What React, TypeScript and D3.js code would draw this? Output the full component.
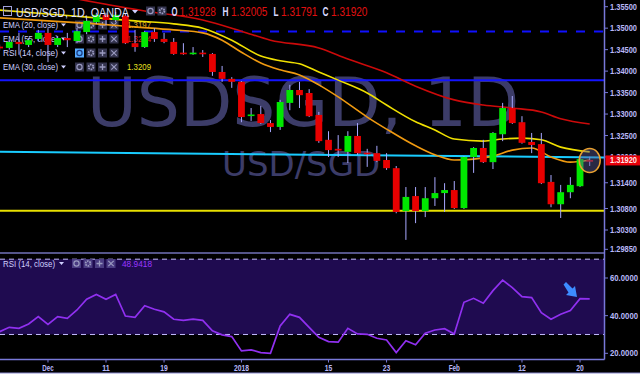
import React from "react";
import * as d3 from "d3";

const dates = [
  "2017-11-24","2017-11-27","2017-11-28","2017-11-29","2017-11-30",
  "2017-12-01","2017-12-04","2017-12-05","2017-12-06","2017-12-07","2017-12-08",
  "2017-12-11","2017-12-12","2017-12-13","2017-12-14","2017-12-15",
  "2017-12-18","2017-12-19","2017-12-20","2017-12-21","2017-12-22",
  "2017-12-26","2017-12-27","2017-12-28","2017-12-29",
  "2018-01-02","2018-01-03","2018-01-04","2018-01-05",
  "2018-01-08","2018-01-09","2018-01-10","2018-01-11","2018-01-12",
  "2018-01-15","2018-01-16","2018-01-17","2018-01-18","2018-01-19",
  "2018-01-22","2018-01-23","2018-01-24","2018-01-25","2018-01-26",
  "2018-01-29","2018-01-30","2018-01-31","2018-02-01","2018-02-02",
  "2018-02-05","2018-02-06","2018-02-07","2018-02-08","2018-02-09",
  "2018-02-12","2018-02-13","2018-02-14","2018-02-15","2018-02-16",
  "2018-02-19","2018-02-20","2018-02-21"
];

const opens = [
  1.3457,1.3454,1.3468,1.3461,1.3475,
  1.3489,1.3461,1.3477,1.3470,1.3491,1.3514,
  1.3531,1.3519,1.3529,1.3465,1.3456,
  1.3491,1.3475,1.3468,1.3443,1.3441,
  1.3443,1.3440,1.3398,1.3382,
  1.3375,1.3297,1.3300,1.3279,
  1.3270,1.3326,1.3356,1.3349,1.3298,
  1.3240,1.3219,1.3212,1.3249,1.3210,
  1.3209,1.3193,1.3174,1.3074,1.3109,
  1.3074,1.3104,1.3116,1.3123,1.3081,
  1.3200,1.3221,1.3188,1.3253,1.3314,
  1.3281,1.3235,1.3230,1.3142,1.3090,
  1.3118,1.3132,1.31928
];
const highs = [
  1.3462,1.3472,1.3489,1.3477,1.3496,
  1.3500,1.3482,1.3489,1.3500,1.3524,1.3536,
  1.3536,1.3538,1.3534,1.3496,1.3493,
  1.3500,1.3489,1.3477,1.3465,1.3456,
  1.3449,1.3442,1.3412,1.3386,
  1.3377,1.3314,1.3319,1.3286,
  1.3333,1.3368,1.3375,1.3358,1.3305,
  1.3260,1.3251,1.3260,1.3279,1.3219,
  1.3226,1.3209,1.3179,1.3130,1.3130,
  1.3130,1.3153,1.3139,1.3144,1.3202,
  1.3223,1.3240,1.3258,1.3326,1.3342,
  1.3295,1.3256,1.3256,1.3158,1.3135,
  1.3153,1.3197,1.32005
];
const lows = [
  1.3448,1.3450,1.3438,1.3456,1.3470,
  1.3421,1.3456,1.3456,1.3465,1.3486,1.3510,
  1.3507,1.3514,1.3463,1.3445,1.3454,
  1.3468,1.3465,1.3438,1.3438,1.3438,
  1.3433,1.3389,1.3375,1.3361,
  1.3281,1.3284,1.3277,1.3258,
  1.3263,1.3309,1.3314,1.3293,1.3233,
  1.3200,1.3200,1.3186,1.3205,1.3177,
  1.3188,1.3170,1.3069,1.3007,1.3046,
  1.3060,1.3086,1.3072,1.3079,1.3079,
  1.3163,1.3186,1.3172,1.3237,1.3277,
  1.3231,1.3209,1.3137,1.3083,1.3058,
  1.3104,1.3130,1.31791
];
const closes = [
  1.3453,1.3468,1.3463,1.3472,1.3489,
  1.3461,1.3477,1.3472,1.3493,1.3517,1.3531,
  1.3519,1.3531,1.3465,1.3456,1.3491,
  1.3475,1.3468,1.3440,1.3441,1.3443,
  1.3441,1.3398,1.3382,1.3375,
  1.3293,1.3299,1.3279,1.3270,
  1.3328,1.3356,1.3344,1.3295,1.3237,
  1.3216,1.3215,1.3249,1.3209,1.3208,
  1.3191,1.3174,1.3072,1.3107,1.3074,
  1.3104,1.3116,1.3123,1.3081,1.3200,
  1.3221,1.3188,1.3256,1.3314,1.3279,
  1.3233,1.3228,1.3139,1.3090,1.3118,
  1.3135,1.3195,1.31920
];

const rsiValues = [
  31.5,33.8,33.3,35.6,39.5,
  35.4,39.5,38.6,43.0,48.7,51.3,
  48.7,51.3,39.8,39.1,45.3,
  43.4,42.0,38.1,37.5,38.1,
  37.5,31.9,29.8,28.9,
  21.3,21.8,20.4,20.0,
  34.5,40.7,39.1,33.8,28.5,
  26.2,25.9,33.3,30.3,30.1,
  28.0,27.1,20.4,26.7,24.5,
  30.7,32.4,33.1,30.3,47.1,
  49.2,46.6,53.3,58.9,54.9,
  50.1,49.6,41.6,38.1,40.7,
  42.7,49.0,48.9418
];

const ema55Dates = ["2017-12-06","2017-12-15","2017-12-26","2018-01-02","2018-01-05","2018-01-12","2018-01-17","2018-01-23","2018-01-26","2018-02-01","2018-02-06","2018-02-09","2018-02-14","2018-02-16","2018-02-21"];
const ema55Values = [1.3568,1.3540,1.3519,1.3493,1.3472,1.3454,1.3428,1.3396,1.3365,1.3333,1.3321,1.3314,1.3305,1.3289,1.3277];

const ema30Dates = ["2017-11-24","2017-12-01","2017-12-08","2017-12-14","2017-12-20","2017-12-26","2017-12-29","2018-01-04","2018-01-08","2018-01-10","2018-01-12","2018-01-16","2018-01-19","2018-01-23","2018-01-26","2018-01-30","2018-02-01","2018-02-06","2018-02-08","2018-02-12","2018-02-14","2018-02-16","2018-02-21"];
const ema30Values = [1.3542,1.3533,1.3524,1.3517,1.3510,1.3500,1.3472,1.3435,1.3424,1.3417,1.3398,1.3379,1.3349,1.3321,1.3282,1.3263,1.3242,1.3237,1.3242,1.3244,1.3240,1.3223,1.3212];

const ema20Dates = ["2017-11-24","2017-12-01","2017-12-08","2017-12-14","2017-12-20","2017-12-26","2017-12-28","2018-01-02","2018-01-04","2018-01-08","2018-01-10","2018-01-12","2018-01-16","2018-01-19","2018-01-23","2018-01-26","2018-01-30","2018-02-01","2018-02-05","2018-02-07","2018-02-09","2018-02-13","2018-02-15","2018-02-19","2018-02-21"];
const ema20Values = [1.3524,1.3517,1.3510,1.3503,1.3496,1.3489,1.3472,1.3444,1.3419,1.3403,1.3391,1.3368,1.3340,1.3293,1.3265,1.3226,1.3205,1.3193,1.3195,1.3202,1.3216,1.3221,1.3200,1.3188,1.3193];

const resistanceDashed = 1.3492;
const resistanceSolid = 1.33786;
const supportLevel = 1.30749;
const trendStart = 1.3212;
const trendEnd = 1.3199;

const priceTicks = [1.355, 1.35, 1.345, 1.34, 1.335, 1.33, 1.325, 1.32, 1.314, 1.308, 1.303, 1.2985];
const rsiTicks = [60, 40, 20];
const rsiBands = [70, 30];
const xTickDates = ["2017-12-01","2017-12-11","2017-12-19","2018-01-02","2018-01-15","2018-01-23","2018-02-01","2018-02-12","2018-02-20"];
const xTickLabels = ["Dec","11","19","2018","15","23","Feb","12","20"];

const lastPrice = 1.3192;
const ohlcLabels = ["O", "H", "L", "C"];
const ohlcValues = ["1.31928", "1.32005", "1.31791", "1.31920"];
const legendRows = [
  { name: "EMA (20, close)", value: "1.3197", color: "#e0b020" },
  { name: "EMA (55, close)", value: "1.3274", color: "#e01818" },
  { name: "RSI (14, close)", value: "", color: "" },
  { name: "EMA (30, close)", value: "1.3209", color: "#e8e020" },
];

const FONT = "'Liberation Sans', Arial, sans-serif";
const TXT = "#d0d0ff";
const AXIS = "#7878d8";

function Icons({ x0, yc, highlight, fill }: { x0: number; yc: number; highlight?: boolean; fill: string }) {
  const xs = [x0, x0 + 11.5, x0 + 23, x0 + 34.5];
  const g = "#9a9ac0";
  return (
    <g>
      {xs.map((bx, k) => (
        <g key={k}>
          <rect x={bx} y={yc - 4.5} width={9} height={9} fill={k === 0 && highlight ? "#55aaff" : fill} />
          {k === 0 && <circle cx={bx + 4.5} cy={yc} r={2.6} fill="none" stroke={highlight ? "#1a3a80" : g} strokeWidth={1.2} />}
          {k === 1 && <circle cx={bx + 4.5} cy={yc} r={2.4} fill="none" stroke={g} strokeWidth={1.8} strokeDasharray="1.5,0.8" />}
          {k === 2 && <path d={`M${bx + 1.5},${yc}H${bx + 7.5}M${bx + 4.5},${yc - 3}V${yc + 3}`} stroke={g} strokeWidth={1.3} />}
          {k === 3 && <path d={`M${bx + 1.8},${yc - 2.7}L${bx + 7.2},${yc + 2.7}M${bx + 7.2},${yc - 2.7}L${bx + 1.8},${yc + 2.7}`} stroke={g} strokeWidth={1.2} />}
        </g>
      ))}
    </g>
  );
}

export default function App() {
  const W = 640, H = 377;
  const axisX = 604.5;
  const sepY = 253;
  const bottomY = 359.5;
  const x = d3.scalePoint<string>().domain(dates).range([-0.4, 589.7]);
  const y = d3.scaleLinear().domain([1.303, 1.355]).range([230, 6.7]);
  const yr = d3.scaleLinear().domain([20, 60]).range([353.3, 278]);

  const emaPath = (ds: string[], vs: number[]) =>
    d3.line<number>().x((_, i) => x(ds[i]) as number).y((v) => y(v)).curve(d3.curveMonotoneX)(vs) || "";
  const rsiPath = d3.line<number>().x((_, i) => x(dates[i]) as number).y((v) => yr(v))(rsiValues) || "";

  const bw = 6.8;
  const trendX = d3.scaleLinear().domain([0, 1]).range([0, axisX]);

  return (
    <svg width={W} height={H} style={{ position: "absolute", left: 0, top: 0, display: "block" }} fontFamily={FONT}>
      <defs>
        <clipPath id="cp"><rect x={0} y={0} width={axisX} height={sepY - 1} /></clipPath>
        <clipPath id="cr"><rect x={0} y={sepY + 1} width={axisX} height={bottomY - sepY - 1} /></clipPath>
      </defs>
      <rect x={0} y={0} width={W} height={H} fill="#ffffff" />
      <rect x={0} y={0} width={W} height={373} fill="#000000" />

      {/* watermark */}
      <text x={87} y={126} fontSize={68} fontFamily="'DejaVu Sans', sans-serif" fill="#3c3c68">USDSGD, 1D</text>
      <text x={222} y={176} fontSize={34} fontFamily="'DejaVu Sans', sans-serif" fill="#3c3c68">USD/SGD</text>

      {/* legend rows (price panel) */}
      {legendRows.map((r, k) => {
        const yc = 25 + k * 14;
        return (
          <g key={k}>
            <text x={3} y={yc + 3.3} fontSize={9.5} fill={TXT} textLength={55} lengthAdjust="spacingAndGlyphs">{r.name}</text>
            <path d={`M61,${yc - 1.5}h5l-2.5,3z`} fill={TXT} />
            <Icons x0={75} yc={yc} highlight={k === 2} fill="#34344e" />
            {r.value && (
              <text x={127} y={yc + 3.3} fontSize={9.5} fill={r.color} textLength={24} lengthAdjust="spacingAndGlyphs">{r.value}</text>
            )}
          </g>
        );
      })}

      {/* price panel */}
      <g clipPath="url(#cp)">
        <line x1={0} x2={axisX} y1={y(resistanceDashed)} y2={y(resistanceDashed)} stroke="#1010ff" strokeWidth={2} strokeDasharray="9,9" />
        <line x1={0} x2={axisX} y1={y(resistanceSolid)} y2={y(resistanceSolid)} stroke="#1414ff" strokeWidth={2} />
        <line x1={trendX(0)} x2={trendX(1)} y1={y(trendStart)} y2={y(trendEnd)} stroke="#19ccff" strokeWidth={2} />
        <line x1={0} x2={axisX} y1={y(supportLevel)} y2={y(supportLevel)} stroke="#e8e000" strokeWidth={2} />

        <path d={emaPath(ema55Dates, ema55Values)} fill="none" stroke="#cc0a0a" strokeWidth={1.6} />
        <path d={emaPath(ema30Dates, ema30Values)} fill="none" stroke="#f0e000" strokeWidth={1.6} />
        <path d={emaPath(ema20Dates, ema20Values)} fill="none" stroke="#f09a10" strokeWidth={1.6} />

        {dates.map((d, i) => {
          const cx = x(d) as number;
          const o = opens[i], c = closes[i];
          const up = c >= o;
          const top = y(Math.max(o, c));
          const bot = y(Math.min(o, c));
          return (
            <g key={d}>
              <line x1={cx} x2={cx} y1={y(highs[i])} y2={y(lows[i])} stroke="#a8a8ff" strokeWidth={1} />
              <rect x={cx - bw / 2} y={top} width={bw} height={Math.max(1.6, bot - top)} fill={up ? "#00e800" : "#e80000"} />
            </g>
          );
        })}

        <ellipse cx={x(dates[dates.length - 1]) as number} cy={y(lastPrice)} rx={10.5} ry={12} fill="rgba(90,90,150,0.45)" stroke="#e8a030" strokeWidth={1.5} />
      </g>

      {/* header */}
      <rect x={3.5} y={6.5} width={8} height={9} fill="none" stroke="#a0a0d8" strokeWidth={1} />
      <line x1={5} x2={10.5} y1={11} y2={11} stroke="#a0a0d8" strokeWidth={1} />
      <text x={16} y={16.5} fontSize={12.5} fill="#e0e0ff" textLength={113} lengthAdjust="spacingAndGlyphs">USD/SGD, 1D, OANDA</text>
      <path d="M132,10h6l-3,3.5z" fill="#d0d0ff" />
      <rect x={146} y={6.5} width={9} height={9} fill="#34344e" />
      <circle cx={150.5} cy={11} r={2.6} fill="none" stroke="#9a9ac0" strokeWidth={1.2} />
      <rect x={157.5} y={6.5} width={9} height={9} fill="#34344e" />
      <circle cx={162} cy={11} r={2.4} fill="none" stroke="#9a9ac0" strokeWidth={1.8} strokeDasharray="1.5,0.8" />
      {ohlcLabels.map((l, k) => {
        const lx = [171.5, 222.5, 273.5, 322.5][k];
        const vx = [179.5, 231, 281, 331][k];
        return (
          <g key={l}>
            <text x={lx} y={16.3} fontSize={12} fill="#d8d8ff" fontWeight="bold" textLength={l === "L" ? 5 : 6} lengthAdjust="spacingAndGlyphs">{l}</text>
            <text x={vx} y={16.3} fontSize={12} fill="#e01010" textLength={36.5} lengthAdjust="spacingAndGlyphs">{ohlcValues[k]}</text>
          </g>
        );
      })}

      {/* separator */}
      <line x1={0} x2={axisX} y1={sepY} y2={sepY} stroke="#55558a" strokeWidth={2} />

      {/* RSI panel */}
      <rect x={0} y={yr(rsiBands[0])} width={axisX} height={yr(rsiBands[1]) - yr(rsiBands[0])} fill="#1f0b50" />
      {rsiBands.map((b) => (
        <line key={b} x1={0} x2={axisX} y1={yr(b)} y2={yr(b)} stroke="#c4bcff" strokeWidth={1} strokeDasharray="5,4" />
      ))}
      <g clipPath="url(#cr)">
        <path d={rsiPath} fill="none" stroke="#9030f0" strokeWidth={1.7} />
      </g>
      <text x={3} y={266.8} fontSize={9.5} fill={TXT} textLength={52} lengthAdjust="spacingAndGlyphs">RSI (14, close)</text>
      <path d={`M59,262h5l-2.5,3z`} fill={TXT} />
      <Icons x0={72} yc={263.5} fill="#4a3c82" />
      <text x={122} y={266.8} fontSize={9.5} fill="#9a36ff" textLength={30} lengthAdjust="spacingAndGlyphs">{rsiValues[rsiValues.length - 1].toFixed(4)}</text>
      {/* annotation arrow */}
      <path d="M563.5,284.5 L566,282 L572.5,288.5 L575,286 L577,297 L566,295 L568.5,292.5 Z" fill="#3d8cff" />

      {/* axes */}
      <line x1={axisX} x2={axisX} y1={0} y2={bottomY} stroke={AXIS} strokeWidth={1.5} />
      <line x1={0} x2={axisX} y1={bottomY} y2={bottomY} stroke={AXIS} strokeWidth={1.5} />
      {priceTicks.map((t) => (
        <g key={t}>
          <line x1={axisX} x2={axisX + 3.5} y1={y(t)} y2={y(t)} stroke={AXIS} strokeWidth={1} />
          <text x={610} y={y(t) + 3} fontSize={8.6} fontWeight="bold" fill="#b8b8f8" textLength={27} lengthAdjust="spacingAndGlyphs">{t.toFixed(5)}</text>
        </g>
      ))}
      <rect x={605.5} y={y(lastPrice) - 5} width={34.5} height={10} fill="#e8000a" />
      <text x={610} y={y(lastPrice) + 3} fontSize={8.6} fontWeight="bold" fill="#ffe8e8" textLength={27} lengthAdjust="spacingAndGlyphs">{closes[closes.length - 1].toFixed(5)}</text>
      {rsiTicks.map((t) => (
        <g key={t}>
          <line x1={axisX} x2={axisX + 3.5} y1={yr(t)} y2={yr(t)} stroke={AXIS} strokeWidth={1} />
          <text x={610} y={yr(t) + 3} fontSize={8.6} fontWeight="bold" fill="#b8b8f8" textLength={28} lengthAdjust="spacingAndGlyphs">{t.toFixed(4)}</text>
        </g>
      ))}
      {xTickDates.map((d, k) => {
        const tx = x(d) as number;
        return (
          <g key={d}>
            <line x1={tx} x2={tx} y1={bottomY} y2={bottomY + 3} stroke={AXIS} strokeWidth={1} />
            <text x={tx} y={371} fontSize={8.6} fontWeight="bold" fill="#b8b8f8" textAnchor="middle" textLength={xTickLabels[k].length * 3.75} lengthAdjust="spacingAndGlyphs">{xTickLabels[k]}</text>
          </g>
        );
      })}
      <line x1={0} x2={W} y1={373} y2={373} stroke="#8a8ad0" strokeWidth={1} />
    </svg>
  );
}
